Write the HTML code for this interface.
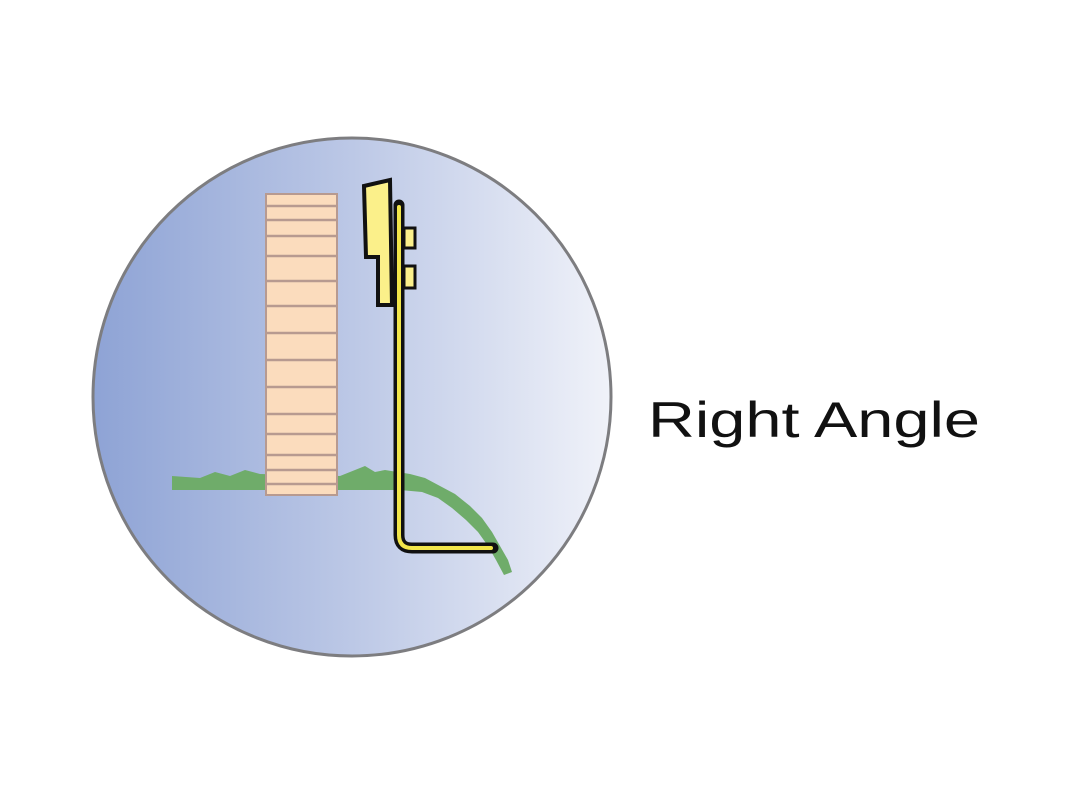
<!DOCTYPE html>
<html><head><meta charset="utf-8"><style>html,body{margin:0;padding:0;background:#fff;width:1075px;height:806px;overflow:hidden}</style></head>
<body>
<svg width="1075" height="806" viewBox="0 0 1075 806" xmlns="http://www.w3.org/2000/svg">
<defs>
<linearGradient id="g" x1="0" x2="1" y1="0" y2="0">
<stop offset="0" stop-color="#8ea3d5"/>
<stop offset="0.5" stop-color="#bcc8e6"/>
<stop offset="1" stop-color="#f0f2f9"/>
</linearGradient>
</defs>
<circle cx="352" cy="397" r="259" fill="url(#g)" stroke="#7d7d80" stroke-width="3"/>
<!-- ground -->
<path d="M172,476 L200,478 L215,472 L230,476 L245,470 L260,474 L340,476 L355,470 L365,466 L375,472 L385,470 L410,474 L425,478 L440,486 L455,494 L470,506 L482,518 L492,532 L500,546 L508,560 L512,572 L504,575 L496,560 L488,546 L478,532 L466,520 L452,508 L438,498 L422,492 L400,490 L340,490 L260,490 L172,490 Z" fill="#6fac6a"/>
<!-- bricks -->
<rect x="266" y="194" width="71" height="301" fill="#fbdcbd" stroke="#b79a90" stroke-width="2"/>
<g stroke="#b79a90" stroke-width="2.5">
<line x1="266" y1="206" x2="337" y2="206"/>
<line x1="266" y1="220" x2="337" y2="220"/>
<line x1="266" y1="236" x2="337" y2="236"/>
<line x1="266" y1="256" x2="337" y2="256"/>
<line x1="266" y1="281" x2="337" y2="281"/>
<line x1="266" y1="306" x2="337" y2="306"/>
<line x1="266" y1="333" x2="337" y2="333"/>
<line x1="266" y1="360" x2="337" y2="360"/>
<line x1="266" y1="387" x2="337" y2="387"/>
<line x1="266" y1="414" x2="337" y2="414"/>
<line x1="266" y1="434" x2="337" y2="434"/>
<line x1="266" y1="455" x2="337" y2="455"/>
<line x1="266" y1="470" x2="337" y2="470"/>
<line x1="266" y1="484" x2="337" y2="484"/>
</g>
<!-- post top bracket -->
<path d="M364,186 L390,180 L392,305 L378,305 L378,257 L366,257 Z" fill="#fbf08a" stroke="#111" stroke-width="4" stroke-linejoin="miter"/>
<rect x="404" y="228" width="11" height="20" fill="#fbf08a" stroke="#111" stroke-width="3"/>
<rect x="404" y="266" width="11" height="22" fill="#fbf08a" stroke="#111" stroke-width="3"/>
<!-- rod -->
<path d="M399,205 L399,535 Q399,548 412,548 L493,548" fill="none" stroke="#111" stroke-width="11" stroke-linecap="round"/>
<path d="M399,207 L399,535 Q399,548 412,548 L491,548" fill="none" stroke="#f2e64a" stroke-width="4" stroke-linecap="round"/>
<text x="648" y="437" font-family="Liberation Sans, sans-serif" font-size="50" fill="#111" textLength="332" lengthAdjust="spacingAndGlyphs">Right Angle</text>
</svg>
</body></html>
